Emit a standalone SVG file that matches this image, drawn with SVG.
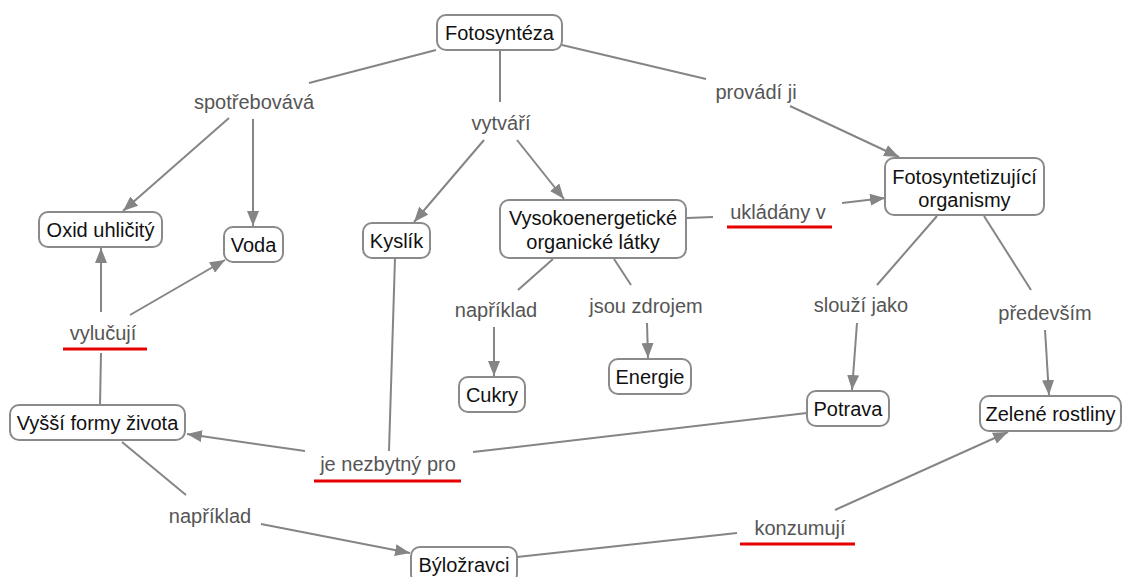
<svg xmlns="http://www.w3.org/2000/svg" width="1123" height="577" viewBox="0 0 1123 577">
<style>
.box{fill:#fff;stroke:#8a8a8a;stroke-width:2}
.nt{font-family:"Liberation Sans",Arial,sans-serif;font-size:20px;fill:#111;text-anchor:middle}
.lt{font-family:"Liberation Sans",Arial,sans-serif;font-size:20px;fill:#555;text-anchor:middle}
.ln{stroke:#858585;stroke-width:2;fill:none}
.ar{marker-end:url(#ah)}
.ul{stroke:#e60000;stroke-width:3}
</style>
<defs>
<marker id="ah" markerUnits="userSpaceOnUse" markerWidth="16" markerHeight="12" refX="15" refY="6" orient="auto">
<path d="M0,0 L15,6 L0,12 z" fill="#858585"/>
</marker>
</defs>
<rect width="1123" height="577" fill="#fff"/>
<g id="connectors">
<line class="ln" x1="436" y1="50" x2="309" y2="83"/>
<line class="ln ar" x1="229" y1="118" x2="123" y2="211"/>
<line class="ln ar" x1="253" y1="119" x2="253" y2="226"/>
<line class="ln" x1="500" y1="50" x2="500" y2="102"/>
<line class="ln ar" x1="484" y1="140" x2="414" y2="222"/>
<line class="ln ar" x1="517" y1="140" x2="564" y2="199"/>
<line class="ln" x1="562" y1="45" x2="706" y2="79"/>
<line class="ln ar" x1="790" y1="106" x2="899" y2="157"/>
<line class="ln" x1="687" y1="218" x2="713" y2="217"/>
<line class="ln ar" x1="842" y1="203" x2="885" y2="198"/>
<line class="ln" x1="937" y1="216" x2="877" y2="285"/>
<line class="ln ar" x1="857" y1="323" x2="852" y2="390"/>
<line class="ln" x1="984" y1="216" x2="1031" y2="290"/>
<line class="ln ar" x1="1045" y1="330" x2="1049" y2="395"/>
<line class="ln" x1="553" y1="259" x2="518" y2="290"/>
<line class="ln ar" x1="494" y1="327" x2="494" y2="376"/>
<line class="ln" x1="614" y1="259" x2="631" y2="285"/>
<line class="ln ar" x1="647" y1="323" x2="648" y2="358"/>
<line class="ln" x1="395" y1="258" x2="389" y2="451"/>
<line class="ln" x1="807" y1="413" x2="473" y2="452"/>
<line class="ln ar" x1="305" y1="451" x2="187" y2="434"/>
<line class="ln" x1="100" y1="405" x2="101" y2="353"/>
<line class="ln ar" x1="101" y1="312" x2="101" y2="248"/>
<line class="ln ar" x1="130" y1="315" x2="225" y2="260"/>
<line class="ln" x1="122" y1="442" x2="186" y2="495"/>
<line class="ln ar" x1="261" y1="524" x2="410" y2="553"/>
<line class="ln" x1="517" y1="557" x2="737" y2="533"/>
<line class="ln ar" x1="835" y1="510" x2="1008" y2="432"/>
</g>
<g id="labels">
<text class="lt" x="254" y="109">spotřebovává</text>
<text class="lt" x="501" y="130">vytváří</text>
<text class="lt" x="756" y="99">provádí ji</text>
<text class="lt" x="778" y="219">ukládány v</text>
<line class="ul" x1="727" y1="227" x2="832" y2="227"/>
<text class="lt" x="496" y="317">například</text>
<text class="lt" x="646" y="313">jsou zdrojem</text>
<text class="lt" x="861" y="312">slouží jako</text>
<text class="lt" x="1045" y="320">především</text>
<text class="lt" x="103" y="340">vylučují</text>
<line class="ul" x1="63" y1="349" x2="147" y2="349"/>
<text class="lt" x="388" y="471">je nezbytný pro</text>
<line class="ul" x1="314" y1="481" x2="461" y2="481"/>
<text class="lt" x="210" y="523">například</text>
<text class="lt" x="800" y="535">konzumují</text>
<line class="ul" x1="740" y1="544" x2="855" y2="544"/>
</g>
<g id="fotosynteza"><rect class="box" x="437" y="15" width="125" height="35" rx="9"/><text class="nt" x="499.5" y="40">Fotosyntéza</text></g>
<g id="oxid"><rect class="box" x="39" y="212" width="123" height="35" rx="9"/><text class="nt" x="100.5" y="237">Oxid uhličitý</text></g>
<g id="voda"><rect class="box" x="224" y="227" width="59" height="35" rx="9"/><text class="nt" x="253.5" y="252">Voda</text></g>
<g id="kyslik"><rect class="box" x="363" y="223" width="67" height="35" rx="9"/><text class="nt" x="396.5" y="248">Kyslík</text></g>
<g id="vysokoenergeticke"><rect class="box" x="500" y="200" width="186" height="58" rx="9"/><text class="nt" x="593" y="225">Vysokoenergetické</text><text class="nt" x="593" y="249">organické látky</text></g>
<g id="fotosyntetizujici"><rect class="box" x="885" y="158" width="159" height="57" rx="9"/><text class="nt" x="964.5" y="184">Fotosyntetizující</text><text class="nt" x="964.5" y="207">organismy</text></g>
<g id="cukry"><rect class="box" x="459" y="377" width="66" height="35" rx="9"/><text class="nt" x="492" y="402">Cukry</text></g>
<g id="energie"><rect class="box" x="609" y="359" width="82" height="35" rx="9"/><text class="nt" x="650" y="384">Energie</text></g>
<g id="potrava"><rect class="box" x="807" y="391" width="82" height="35" rx="9"/><text class="nt" x="848" y="416">Potrava</text></g>
<g id="zelene"><rect class="box" x="980" y="396" width="141" height="35" rx="9"/><text class="nt" x="1050.5" y="421">Zelené rostliny</text></g>
<g id="vyssi"><rect class="box" x="10" y="405" width="175" height="35" rx="9"/><text class="nt" x="97.5" y="430">Vyšší formy života</text></g>
<g id="bylozravci"><rect class="box" x="411" y="547" width="106" height="36" rx="9"/><text class="nt" x="464" y="572">Býložravci</text></g>
</svg>
